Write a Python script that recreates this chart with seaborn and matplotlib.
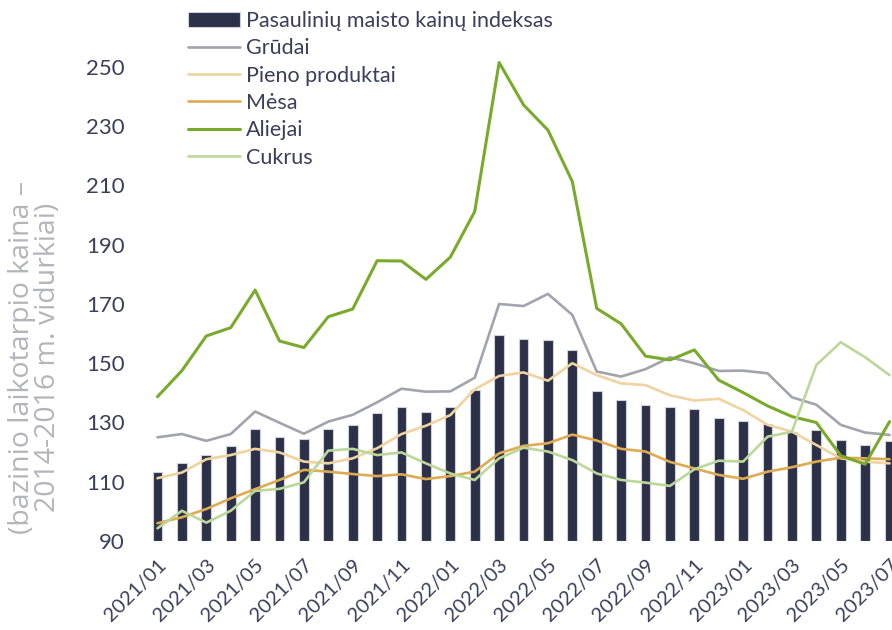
import matplotlib
matplotlib.use("Agg")
import matplotlib.pyplot as plt
import seaborn as sns
import pandas as pd

sns.set_style("white")
plt.rcParams["font.family"] = ["Lato", "DejaVu Sans"]

TEXT = "#3b3f5a"

months = [f"{y}/{m:02d}" for y in (2021, 2022, 2023) for m in range(1, 13)][:31]

food_index = [113.4, 116.4, 119.0, 122.1, 127.9, 125.2, 124.4, 127.8, 129.0, 133.1,
              135.2, 133.5, 135.3, 141.0, 159.5, 158.2, 157.8, 154.5, 140.5, 137.5,
              135.8, 135.2, 134.6, 131.6, 130.4, 129.5, 126.8, 127.6, 124.0, 122.4,
              123.8]
cereals = [125.0, 126.1, 123.8, 126.1, 133.7, 129.9, 126.2, 130.3, 132.6, 136.8,
           141.4, 140.4, 140.5, 145.1, 170.0, 169.3, 173.4, 166.3, 147.2, 145.5,
           148.0, 152.0, 150.0, 147.4, 147.5, 146.6, 138.5, 136.0, 129.2, 126.6,
           125.8]
dairy = [111.2, 113.1, 117.6, 119.0, 121.1, 119.9, 116.8, 116.2, 117.9, 121.3,
         126.1, 128.9, 132.5, 141.2, 145.7, 146.9, 144.1, 150.0, 146.0, 143.2,
         142.6, 139.2, 137.4, 138.0, 134.2, 129.2, 126.9, 122.4, 117.9, 116.8,
         116.2]
meat = [96.0, 98.0, 100.8, 104.4, 107.5, 110.6, 114.0, 113.4, 112.6, 111.9,
        112.5, 110.9, 111.9, 113.4, 119.6, 122.1, 123.0, 125.9, 123.9, 121.1,
        120.2, 116.7, 114.5, 112.3, 111.0, 113.4, 114.9, 116.8, 118.1, 117.9,
        117.6]
oils = [138.7, 147.5, 159.2, 162.0, 174.7, 157.5, 155.3, 165.7, 168.3, 184.6,
        184.5, 178.3, 185.8, 201.2, 251.5, 237.2, 228.7, 211.3, 168.5, 163.3,
        152.4, 151.1, 154.5, 144.3, 140.1, 135.6, 132.0, 130.0, 118.8, 115.9,
        130.3]
sugar = [94.3, 100.2, 96.2, 100.2, 106.9, 107.6, 109.8, 120.5, 121.1, 119.0,
         119.9, 116.2, 112.8, 110.6, 117.9, 121.5, 120.2, 117.3, 112.8, 110.6,
         109.7, 108.6, 114.2, 117.1, 116.8, 125.2, 126.9, 149.4, 157.1, 152.0,
         146.0]

series = [
    ("Grūdai", cereals, "#a3a3ae", 1.9),
    ("Pieno produktai", dairy, "#efd3a0", 1.9),
    ("Mėsa", meat, "#deaa52", 1.9),
    ("Aliejai", oils, "#79aa2c", 2.2),
    ("Cukrus", sugar, "#bcd79a", 1.9),
]

df = pd.DataFrame({"month": months, "pos": range(len(months)), "index": food_index})

fig = plt.figure(figsize=(8.92, 6.30), dpi=100)
ax = fig.add_axes([140 / 892, 89 / 630, 752 / 892, 541 / 630])

sns.barplot(data=df, x="month", y="index", color="#2c3149", width=0.4,
            edgecolor="#cfd0d8", linewidth=0.8, saturation=1,
            label="Pasaulinių maisto kainų indeksas", ax=ax, zorder=2)
for d in ax.patches:
    # bars start at the bottom of the axis (90), not at zero
    d.set_y(90)
    d.set_height(d.get_height() - 90)

for name, vals, col, lw in series:
    sns.lineplot(x=df["pos"], y=vals, color=col, linewidth=lw, label=name,
                 ax=ax, zorder=3)

ax.set_xlim(-0.717, 30.1)
ax.set_ylim(90, 272.6)
ax.set_yticks(range(90, 251, 20))
ax.set_xticks(range(0, 31, 2))
ax.set_xticklabels(months[::2], rotation=45, ha="right", rotation_mode="anchor")
ax.tick_params(axis="both", length=0, colors=TEXT)
ax.tick_params(axis="x", pad=11, labelsize=14.5)
ax.tick_params(axis="y", pad=11, labelsize=16)
ax.set_xlabel("")
ax.set_ylabel("")
sns.despine(ax=ax, left=True, bottom=True)

handles, labels = ax.get_legend_handles_labels()
order = [labels.index("Pasaulinių maisto kainų indeksas")] + \
        [i for i, l in enumerate(labels) if l != "Pasaulinių maisto kainų indeksas"]
leg = ax.legend([handles[i] for i in order], [labels[i] for i in order],
                loc="upper left", bbox_to_anchor=(188 / 892, 1 - 11 / 630),
                bbox_transform=fig.transFigure, frameon=False, fontsize=15.5,
                handlelength=2.4, handletextpad=0.28, labelspacing=0.34,
                borderpad=0, borderaxespad=0)
for t in leg.get_texts():
    t.set_color(TEXT)

fig.text(35 / 892, (630 - 357) / 630,
         "(bazinio laikotarpio kaina –\n2014-2016 m. vidurkiai)",
         rotation=90, ha="center", va="center", multialignment="center",
         fontsize=20.5, color="#b4b4bc", linespacing=0.92,
         family=["Open Sans", "DejaVu Sans"])

fig.savefig("out.png", dpi=100)
